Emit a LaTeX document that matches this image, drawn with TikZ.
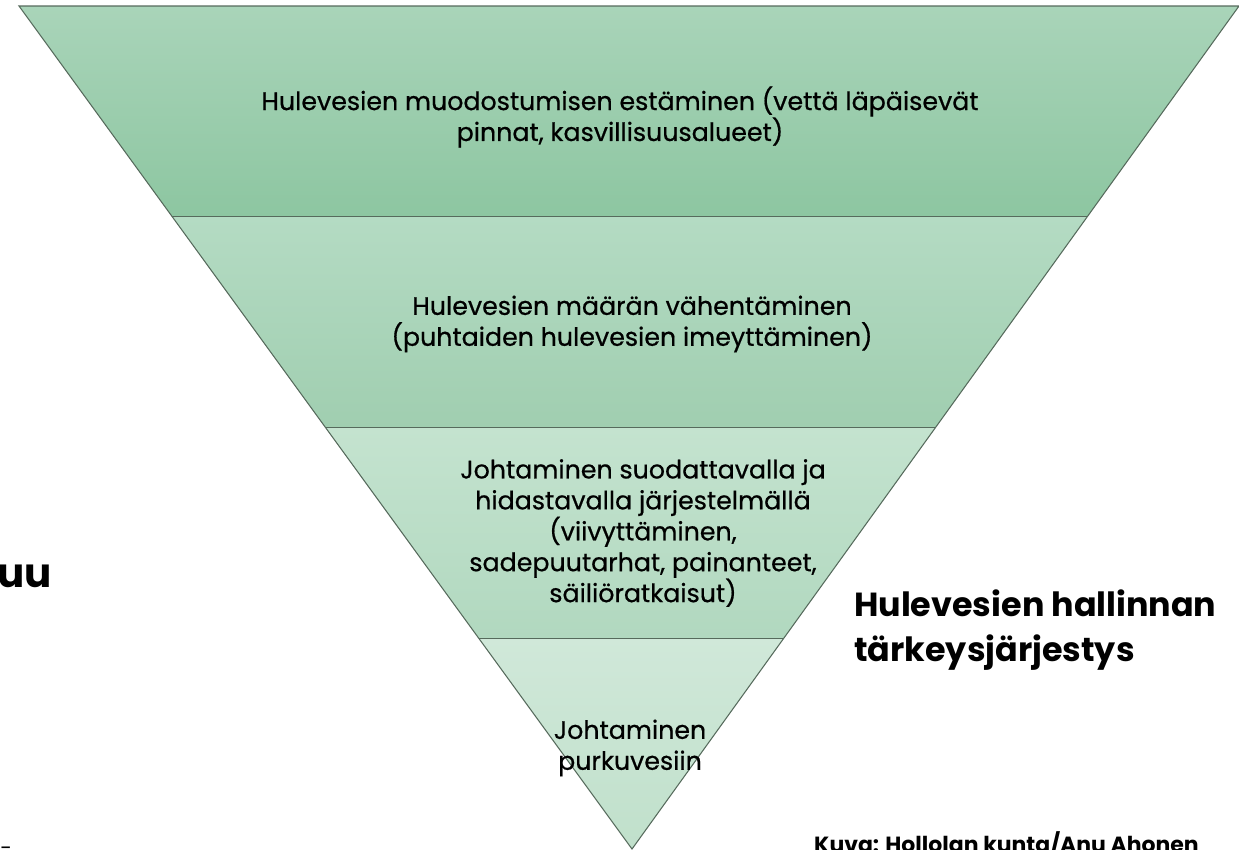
\documentclass[tikz,border=0pt]{standalone}
\usepackage{fontspec}
\setmainfont{Poppins}
\newfontfamily\medfont{Poppins}[FakeBold=0.6]
\usetikzlibrary{calc}
\definecolor{edgegray}{HTML}{566A5C}
\definecolor{bandatop}{HTML}{A9D4B9}
\definecolor{bandabot}{HTML}{8DC6A1}
\definecolor{bandbtop}{HTML}{B4DBC3}
\definecolor{bandbbot}{HTML}{A0CEB0}
\definecolor{bandctop}{HTML}{C4E3CF}
\definecolor{bandcbot}{HTML}{B1D8BF}
\definecolor{banddtop}{HTML}{D0E8D9}
\definecolor{banddbot}{HTML}{C0E0CB}

\begin{document}
\begin{tikzpicture}[x=0.02cm,y=-0.02cm,
	band/.style={draw=edgegray,line width=0.6pt},
	lvltext/.style={align=center,font=\medfont\fontsize{14.4}{17.6}\selectfont},
	sidetext/.style={align=left,font=\bfseries\fontsize{19}{25.6}\selectfont}]
	
	\useasboundingbox (0,0) rectangle (1239,849);
	\clip (0,0) rectangle (1239,849);
	
	% corners of the triangle
	\coordinate (tl) at (19,6);
	\coordinate (tr) at (1239,6);
	\coordinate (ap) at (632,849);
	
	\coordinate (l1) at ($(tl)!0.25!(ap)$);
	\coordinate (r1) at ($(tr)!0.25!(ap)$);
	\coordinate (l2) at ($(tl)!0.5!(ap)$);
	\coordinate (r2) at ($(tr)!0.5!(ap)$);
	\coordinate (l3) at ($(tl)!0.75!(ap)$);
	\coordinate (r3) at ($(tr)!0.75!(ap)$);
	
	\shade[top color=bandatop,bottom color=bandabot] (tl) -- (tr) -- (r1) -- (l1) -- cycle;
	\shade[top color=bandbtop,bottom color=bandbbot] (l1) -- (r1) -- (r2) -- (l2) -- cycle;
	\shade[top color=bandctop,bottom color=bandcbot] (l2) -- (r2) -- (r3) -- (l3) -- cycle;
	\shade[top color=banddtop,bottom color=banddbot] (l3) -- (r3) -- (ap) -- cycle;
	
	\draw[band] (tl) -- (tr) -- (ap) -- cycle;
	\draw[band] (l1) -- (r1);
	\draw[band] (l2) -- (r2);
	\draw[band] (l3) -- (r3);
	
	\node[lvltext] (estaminen) at (620,117) {Hulevesien muodostumisen estäminen (vettä läpäisevät\\pinnat, kasvillisuusalueet)};
	\node[lvltext] (vahentaminen) at (632,324) {Hulevesien määrän vähentäminen\\(puhtaiden hulevesien imeyttäminen)};
	\node[lvltext] (suodatus) at (643,533) {Johtaminen suodattavalla ja\\hidastavalla järjestelmällä\\(viivyttäminen,\\sadepuutarhat, painanteet,\\säiliöratkaisut)};
	\node[lvltext] (purku) at (630,748) {Johtaminen\\purkuvesiin};
	
	\node[sidetext,anchor=west] (jarjestys) at (848,630) {Hulevesien hallinnan\\tärkeysjärjestys};
	\node[anchor=east,font=\bfseries\fontsize{23}{28}\selectfont] (cutleft) at (58,576) {uu};
	\node[anchor=base west,font=\bfseries\fontsize{12.5}{15}\selectfont] (kuva) at (808,852) {Kuva: Hollolan kunta/Anu Ahonen};
	\node[anchor=base west,inner sep=0pt,font=\fontsize{12}{14}\selectfont] (viiva) at (0,855) {-};
	
\end{tikzpicture}
\end{document}
